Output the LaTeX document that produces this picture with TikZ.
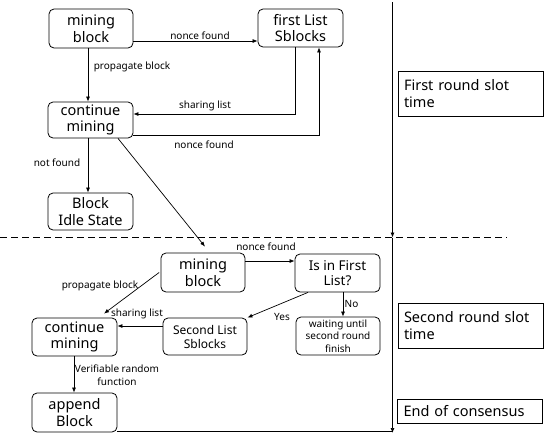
\documentclass[tikz,border=0pt]{standalone}
\usepackage{fontspec}
\setmainfont{Noto Sans}
\usetikzlibrary{arrows.meta}
\begin{document}
\begin{tikzpicture}[x=1pt,y=-1pt,
  box/.style={draw, rounded corners=5pt, line width=0.8pt, align=center, inner sep=0pt,
    minimum width=84pt, minimum height=38pt, font=\fontsize{14.5}{16.7}\selectfont},
  lbl/.style={font=\fontsize{10}{13}\selectfont, inner sep=0pt, align=center},
  arr/.style={-{Latex[length=5pt,width=4pt]}, line width=0.7pt},
  slot/.style={draw, line width=0.7pt, align=left, inner xsep=6pt, inner ysep=0pt,
    text width=133pt, font=\fontsize{14.5}{17}\selectfont},
  dash line/.style={line width=0.8pt, dash pattern=on 7pt off 4pt}
]
\useasboundingbox (0,0) rectangle (550,437);

% first round
\node[box, minimum height=39pt] (mb1) at (91,28.5) {mining\\block};
\node[box, minimum width=85pt] (fl) at (300.5,28) {first List\\Sblocks};
\node[box, minimum width=85pt, minimum height=36pt] (cm1) at (90.5,120) {continue\\mining};
\node[box, minimum width=85pt, minimum height=37pt] (bis) at (90.5,211.5) {Block\\Idle State};

% second round
\node[box, minimum height=39pt] (mb2) at (203,272.5) {mining\\block};
\node[box, minimum width=85pt, font=\fontsize{13.5}{15.7}\selectfont] (isf) at (337.5,273) {Is in First\\List?};
\node[box, minimum width=85pt] (cm2) at (74.5,337) {continue\\mining};
\node[box, minimum height=37pt, font=\fontsize{12}{14}\selectfont] (sl) at (205,336.5) {Second List\\Sblocks};
\node[box, font=\fontsize{10}{12.3}\selectfont] (wait) at (338,336) {waiting until\\second round\\finish};
\node[box, minimum width=85pt, minimum height=39pt] (ab) at (74.5,412.5) {append\\Block};

% slot boxes
\node[slot, minimum height=45pt] (r1) at (470.5,93.5) {First round slot\\time};
\node[slot, minimum height=45pt] (r2) at (470.5,325.5) {Second round slot\\time};
\node[slot, minimum height=24pt] (r3) at (470,411) {End of consensus};

% timeline and separator
\coordinate (tl1) at (392.5,2);
\coordinate (tl2) at (392.5,237.5);
\coordinate (tl3) at (392.5,433);
\coordinate (d1) at (0,237.5);
\coordinate (d2) at (507,237.5);
\draw[dash line] (d1) -- (d2);
\draw[arr] (tl1) -- (tl2);
\draw[arr] (tl2) -- (tl3);

% first round connectors
\draw[arr] ([yshift=-12.5pt]mb1.east) -- ([yshift=-12.5pt]mb1.east -| fl.west);
\draw[arr] ([xshift=-3pt]mb1.south) -- ([xshift=-3pt]mb1.south |- cm1.north);
\draw[arr] ([xshift=-5.5pt]fl.south) |- ([yshift=6pt]cm1.east);
\draw[arr] ([yshift=-15pt]cm1.east) -| ([xshift=18.5pt]fl.south);
\draw[arr] ([xshift=-2.5pt]cm1.south) -- ([xshift=-2.5pt]cm1.south |- bis.north);
\draw[arr] ([xshift=27.5pt]cm1.south) -- ([xshift=2pt,yshift=6pt]mb2.north);

% second round connectors
\draw[arr] ([yshift=11.5pt]mb2.east) -- ([yshift=11.5pt]mb2.east -| isf.west);
\draw[arr] ([xshift=-1.5pt]mb2.west) -- ([xshift=29.5pt,yshift=4pt]cm2.north);
\draw[arr] ([yshift=10.5pt]sl.west) -- ([yshift=10.5pt]sl.west -| cm2.east);
\draw[arr] ([xshift=-29.5pt]isf.south) -- (sl.north east);
\draw[arr] ([xshift=5.5pt]isf.south) -- ([xshift=5.5pt]isf.south |- wait.north);
\draw[arr] ([xshift=-0.5pt]cm2.south) -- ([xshift=-0.5pt]cm2.south |- ab.north);
\draw[line width=0.7pt] ([yshift=1pt]ab.south east) -- ([yshift=1pt]ab.south east -| tl3);

% labels
\node[lbl] (l1) at (200,36) {nonce found};
\node[lbl] (l2) at (132,67) {propagate block};
\node[lbl] (l3) at (205,106) {sharing list};
\node[lbl] (l4) at (204,145) {nonce found};
\node[lbl] (l5) at (57,163) {not found};
\node[lbl] (l6) at (266,247) {nonce found};
\node[lbl] (l7) at (100,286) {propagate block};
\node[lbl] (l8) at (137,314) {sharing list};
\node[lbl] (l9) at (282,317) {Yes};
\node[lbl] (l10) at (351.5,304) {No};
\node[lbl] (l11) at (117,375.5) {Verifiable random\\function};
\end{tikzpicture}
\end{document}
